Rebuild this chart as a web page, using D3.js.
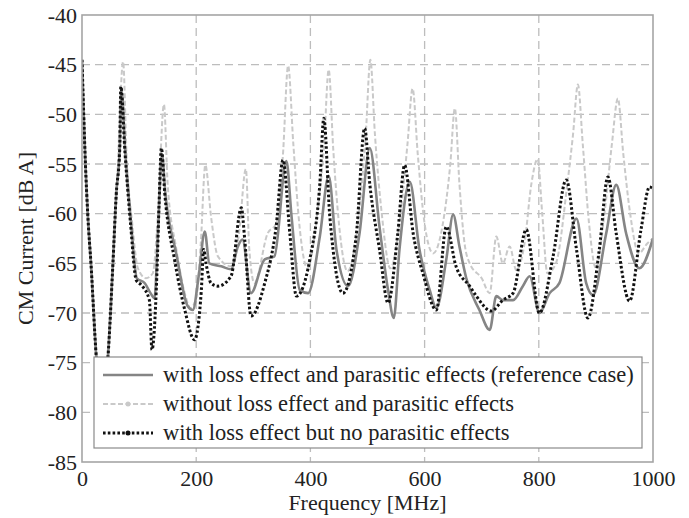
<!DOCTYPE html>
<html>
<head>
<meta charset="utf-8">
<script src="https://cdn.jsdelivr.net/npm/d3@7"></script>
<style>
  html, body { margin: 0; padding: 0; background: #fff; }
  svg { display: block; }
  text { font-family: "Liberation Serif", "Times New Roman", serif; fill: #222; }
</style>
</head>
<body>
<svg id="chart" width="689" height="518"></svg>
<script>
// Frequency axis ticks (MHz) and current axis ticks (dB A)
const xTicks = [0, 200, 400, 600, 800, 1000];
const yTicks = [-85, -80, -75, -70, -65, -60, -55, -50, -45, -40];

// with loss effect and parasitic effects (reference case): [MHz, dB A]
const refCase = [
  [0,-44.5],[3,-50],[6,-55],[10,-60],[16,-65.3],[25,-74.4],[35,-79],[45.5,-74.4],[54,-65.2],
  [60,-58],[66,-53.6],[69,-47.5],[76,-54],[86,-61],[96,-66.5],[110,-67],[120,-68],[127,-68.5],
  [133,-62],[140,-54],[146,-58],[165,-64],[185,-69.3],[194,-69.7],[205,-66],[215,-61.8],
  [223,-65],[244,-65.3],[261,-65.6],[273,-63.3],[281,-62.6],[296,-68],[320,-64.6],[337,-64.3],
  [358,-54.7],[367,-60.3],[381.5,-67.7],[396,-68],[416.5,-62.3],[432,-56.2],[445.6,-63.6],
  [466,-67.3],[486,-62],[504,-53.4],[521,-61.3],[536,-67.7],[546,-70.5],[556,-63.6],[574,-56.8],
  [591,-63.6],[609,-67.7],[620.6,-69.5],[638,-64.6],[650,-60.1],[661,-63.3],[673,-66.5],
  [696,-69.7],[714,-71.7],[725.6,-68.3],[737,-68.7],[755,-68.7],[772,-67.3],[784,-66.3],
  [801,-70],[819,-68],[836,-67],[866,-60.5],[883,-67],[895,-68.2],[918,-62],[935.6,-57.1],
  [953,-62],[976,-65.5],[1000,-62.5]
];

// without loss effect and parasitic effects
const noLossNoParasitic = [
  [0,-44.5],[6,-55],[16,-65],[25,-74],[35,-78],[45,-74],[54,-65],[62,-56],[72,-44.7],[78,-54],
  [88,-61],[98,-65.5],[112,-66.5],[124,-66],[133,-60],[143.5,-49],[150,-57],[165,-63.5],
  [180,-68],[190,-69.5],[200,-68.5],[208,-63],[216,-55.1],[226,-60.3],[238,-64.3],[261,-65.3],
  [275,-62],[287,-55.5],[293,-63.6],[302,-67],[325,-62],[340,-61],[352,-54],[361,-45.1],
  [370,-52.9],[381,-61.3],[395,-65.5],[412,-60],[424,-53],[432,-45.5],[440,-53.5],[450,-61],
  [465,-65.8],[485,-60],[497,-52],[505,-44.5],[513,-52],[525,-60],[540,-65.5],[558,-60],
  [570,-53],[579,-47.4],[588,-54],[600,-61],[615,-64],[632,-61],[645,-55],[653,-49.4],
  [661,-57],[670,-63],[679,-65],[700,-66.5],[714,-68],[725.6,-62.3],[737,-65],[749,-63.3],
  [760.6,-65.7],[775,-63],[787,-57],[798,-54.5],[806,-60],[815,-66],[830,-65],[850,-57],
  [860,-52],[868.5,-47],[877,-53],[888,-61],[900,-65.5],[915,-60],[928,-53],[938.5,-48.4],
  [948,-54],[960,-60],[975,-64],[990,-63],[1000,-62.5]
];

// with loss effect but no parasitic effects
const lossNoParasitic = [
  [0,-44.5],[3,-50],[6,-55],[10,-60],[16,-65.3],[25,-74.4],[35,-79],[45.5,-74.4],[54,-65.2],
  [60,-58],[66,-53.6],[68,-47.2],[75,-53.6],[85,-61],[95,-66.7],[104,-67.2],[118,-68.7],
  [122.5,-73.7],[131,-66.3],[135,-59],[139,-53.4],[145,-58],[162,-64.6],[180,-69.7],
  [197,-72.7],[209,-67.7],[213,-63.6],[217.5,-65.1],[226,-67],[238,-67.3],[261,-66.3],
  [279,-59.4],[285,-62.6],[296,-70.3],[320,-67],[340,-61.3],[352,-54.6],[364,-62],
  [375.5,-68.3],[399,-64.6],[416.5,-57],[423.5,-50.4],[434,-60.3],[457,-68],[480.6,-62],
  [495,-51.4],[504,-57],[521,-63.6],[536,-69],[553,-62],[565,-55.1],[580,-62],[597,-66],
  [620.6,-69.7],[638,-61.3],[655,-65.3],[679,-67.3],[690.6,-68.3],[717,-69.8],[737,-68.7],
  [755,-68],[778,-61.6],[801,-70],[825,-64.3],[848,-56.6],[866,-63.6],[886,-70.5],[906,-63.6],
  [921,-56.3],[935.6,-62],[959,-68.8],[979,-61.6],[994,-57.3],[1000,-57.5]
];

const legendLabels = [
  "with loss effect and parasitic effects (reference case)",
  "without loss effect and parasitic effects",
  "with loss effect but no parasitic effects"
];

const svg = d3.select("#chart");
const plot = { left: 82, right: 653, top: 15, bottom: 462 };

const x = d3.scaleLinear().domain([0, 1000]).range([plot.left, plot.right]);
const y = d3.scaleLinear().domain([-85, -40]).range([plot.bottom, plot.top]);

svg.append("defs").append("clipPath").attr("id", "plot-clip")
  .append("rect")
  .attr("x", plot.left).attr("y", plot.top)
  .attr("width", plot.right - plot.left).attr("height", plot.bottom - plot.top);

// dashed grid
const grid = svg.append("g").attr("stroke", "#bdbdbd").attr("stroke-width", 1.3)
  .attr("stroke-dasharray", "8,5");
grid.selectAll("line.h").data(yTicks.slice(1, -1)).join("line")
  .attr("x1", plot.left).attr("x2", plot.right)
  .attr("y1", d => y(d)).attr("y2", d => y(d));
grid.selectAll("line.v").data(xTicks.slice(1, -1)).join("line")
  .attr("y1", plot.top).attr("y2", plot.bottom)
  .attr("x1", d => x(d)).attr("x2", d => x(d));

// curves
const line = d3.line().curve(d3.curveMonotoneX).x(d => x(d[0])).y(d => y(d[1]));
const curves = svg.append("g").attr("clip-path", "url(#plot-clip)").attr("fill", "none")
  .attr("stroke-linejoin", "round");

curves.append("path").datum(noLossNoParasitic)
  .attr("d", line).attr("stroke", "#c9c9c9").attr("stroke-width", 2)
  .attr("stroke-dasharray", "5,2.5");
curves.append("path").datum(refCase)
  .attr("d", line).attr("stroke", "#858585").attr("stroke-width", 2.6);
curves.append("path").datum(lossNoParasitic)
  .attr("d", line).attr("stroke", "#111").attr("stroke-width", 3)
  .attr("stroke-dasharray", "2.6,2.2");

// frame
svg.append("rect")
  .attr("x", plot.left).attr("y", plot.top)
  .attr("width", plot.right - plot.left).attr("height", plot.bottom - plot.top)
  .attr("fill", "none").attr("stroke", "#a5a5a5").attr("stroke-width", 1.6);

// axes (plain hyphen for negative labels)
const fmt = d => String(d);
const xAxis = svg.append("g").attr("transform", `translate(0,${plot.bottom})`)
  .call(d3.axisBottom(x).tickValues(xTicks).tickSize(0).tickPadding(8).tickFormat(fmt));
const yAxis = svg.append("g").attr("transform", `translate(${plot.left},0)`)
  .call(d3.axisLeft(y).tickValues(yTicks).tickSize(0).tickPadding(5).tickFormat(fmt));
[xAxis, yAxis].forEach(a => {
  a.select(".domain").remove();
  a.selectAll("text").attr("font-size", 22).attr("font-family", "Liberation Serif, serif")
    .attr("fill", "#222");
});

svg.append("text")
  .attr("x", (plot.left + plot.right) / 2).attr("y", 510)
  .attr("text-anchor", "middle").attr("font-size", 22)
  .text("Frequency [MHz]");
svg.append("text")
  .attr("transform", `translate(33,${(plot.top + plot.bottom) / 2}) rotate(-90)`)
  .attr("text-anchor", "middle").attr("font-size", 22)
  .text("CM Current [dB A]");

// legend
const legend = svg.append("g");
legend.append("rect")
  .attr("x", 94).attr("y", 357).attr("width", 548).attr("height", 91)
  .attr("fill", "#fff").attr("stroke", "#8a8a8a").attr("stroke-width", 1.2);
const styles = [
  { stroke: "#858585", width: 2.6, dash: null, marker: null },
  { stroke: "#c9c9c9", width: 2, dash: "5,2.5", marker: "#c9c9c9" },
  { stroke: "#111", width: 3, dash: "2.6,2.2", marker: "#111" }
];
const rows = legend.selectAll("g.row").data(legendLabels).join("g")
  .attr("transform", (d, i) => `translate(0,${375 + i * 29})`);
rows.append("line")
  .attr("x1", 103).attr("x2", 153).attr("y1", 0).attr("y2", 0)
  .attr("stroke", (d, i) => styles[i].stroke)
  .attr("stroke-width", (d, i) => styles[i].width)
  .attr("stroke-dasharray", (d, i) => styles[i].dash);
rows.filter((d, i) => styles[i].marker)
  .append("circle").attr("cx", 128).attr("cy", 0).attr("r", 2.5)
  .attr("fill", d => styles[legendLabels.indexOf(d)].marker);
rows.append("text")
  .attr("x", 163).attr("y", 0).attr("dy", "0.32em")
  .attr("font-size", 22.5)
  .text(d => d);
</script>
</body>
</html>
